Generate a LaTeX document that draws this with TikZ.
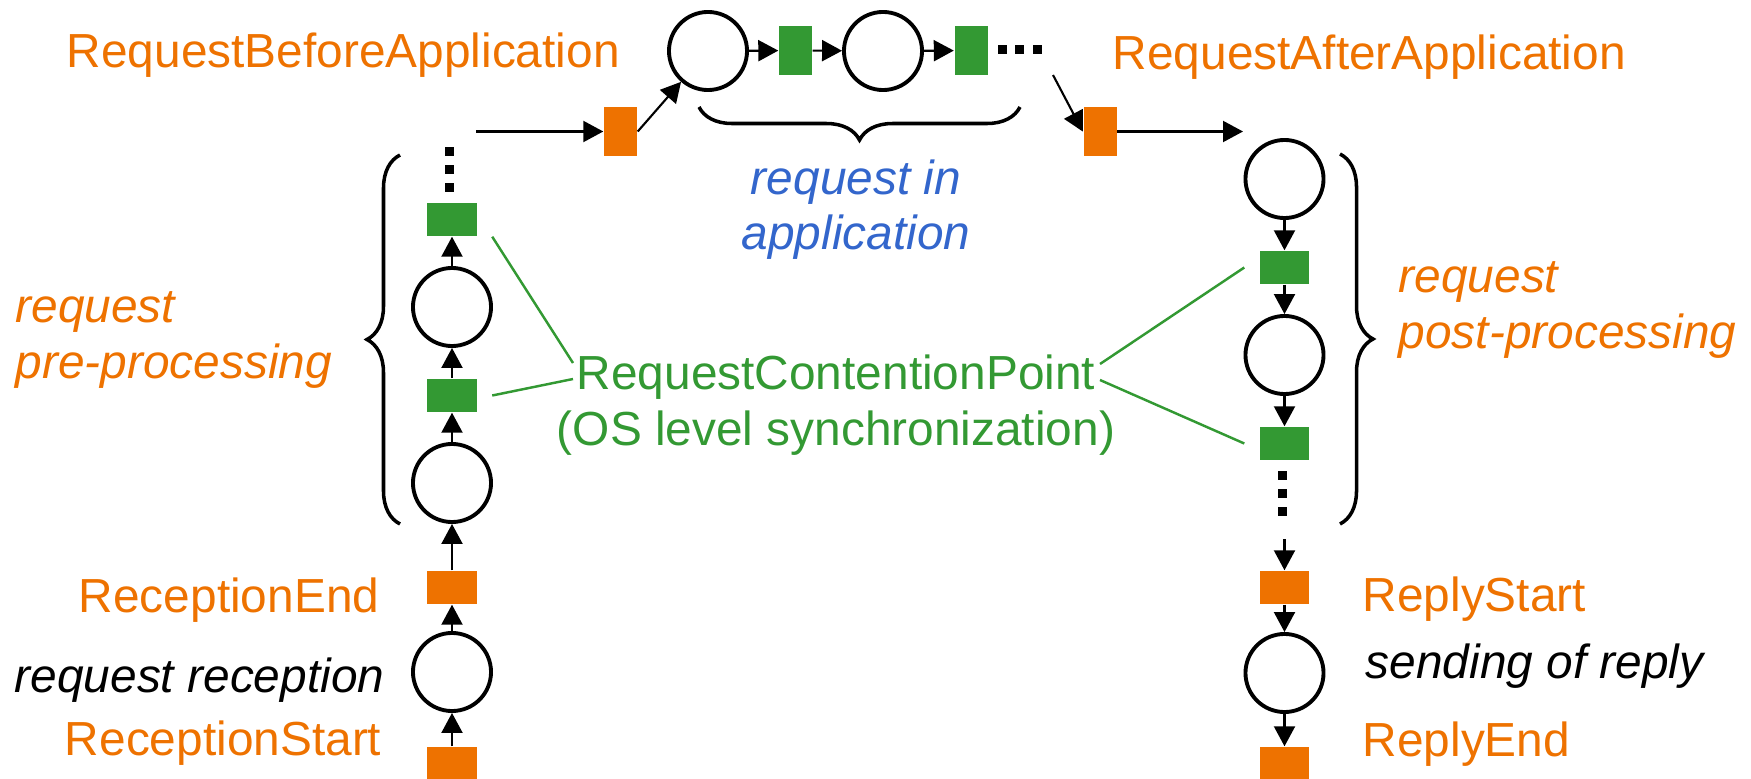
\documentclass[tikz,border=0pt]{standalone}
\usepackage{fontspec}
\setmainfont{Liberation Sans}
\usetikzlibrary{arrows.meta, decorations.pathreplacing}
\definecolor{reqorange}{RGB}{238, 114, 0}
\definecolor{syncgreen}{RGB}{51, 153, 51}
\definecolor{appblue}{RGB}{51, 102, 204}
\newcommand{\lblfont}{\fontsize{13.6}{15.9}\selectfont}

\begin{document}
\begin{tikzpicture}[x=0.01cm, y=-0.01cm,
  place/.style={circle, draw, line width=1.1pt, minimum size=0.78cm, inner sep=0pt},
  htrans/.style={rectangle, fill=#1, minimum width=0.49cm, minimum height=0.33cm, inner sep=0pt},
  vtrans/.style={rectangle, fill=#1, minimum width=0.33cm, minimum height=0.49cm, inner sep=0pt},
  flow/.style={-{Triangle[length=0.2cm, width=0.21cm]}, line width=0.6pt},
  lead/.style={syncgreen, line width=0.7pt},
  grp/.style={decorate, decoration={brace, amplitude=0.33cm}, line width=1pt},
  lbl/.style={font=\lblfont, inner sep=0pt, text=#1},
  note/.style={font=\lblfont\itshape, inner sep=0pt, text=#1}]
  \useasboundingbox (0,0) rectangle (1751,779);

  % Left column: reception and pre-processing
  \node[htrans=reqorange] (recStart) at (452,763.5) {};
  \node[place] (recPlace) at (452,672) {};
  \node[htrans=reqorange] (recEnd) at (452,587.5) {};
  \node[place] (preA) at (452,483) {};
  \node[htrans=syncgreen] (preT1) at (452,395.5) {};
  \node[place] (preB) at (452,307) {};
  \node[htrans=syncgreen] (preT2) at (452,219.5) {};
  \foreach \y in {147,165,183}
    \fill (445,\y) rectangle +(9,9);

  \draw[flow] (recStart) -- (recPlace);
  \draw[flow] (recPlace) -- (recEnd);
  \draw[flow] (recEnd) -- (preA);
  \draw[flow] (preA) -- (preT1);
  \draw[flow] (preT1) -- (preB);
  \draw[flow] (preB) -- (preT2);

  % Top row: request in application
  \coordinate (preOut) at (476,131.5);
  \coordinate (appOut) at (1053,75);
  \coordinate (postIn) at (1243,131.5);
  \node[vtrans=reqorange] (beforeApp) at (620.5,131.5) {};
  \node[place] (appA) at (708,51) {};
  \node[vtrans=syncgreen] (appT1) at (795.5,50.5) {};
  \node[place] (appB) at (883,51) {};
  \node[vtrans=syncgreen] (appT2) at (971,50.5) {};
  \foreach \x in {998,1015,1033}
    \fill (\x,45) rectangle +(9,9);
  \node[vtrans=reqorange] (afterApp) at (1100,131.5) {};

  \draw[flow] (preOut) -- (beforeApp);
  \draw[flow] (beforeApp.east) -- (appA);
  \draw[flow] (appA) -- (appT1);
  \draw[flow] (appT1) -- (appB);
  \draw[flow] (appB) -- (appT2);
  \draw[flow] (appOut) -- (afterApp.west);
  \draw[flow] (afterApp) -- (postIn);

  % Right column: post-processing and reply
  \node[place] (postA) at (1284.5,179) {};
  \node[htrans=syncgreen] (postT1) at (1284.5,267.5) {};
  \node[place] (postB) at (1284.5,355) {};
  \node[htrans=syncgreen] (postT2) at (1284.5,443.5) {};
  \foreach \y in {471,489,507}
    \fill (1278,\y) rectangle +(9,9);
  \coordinate (postOut) at (1284.5,539);
  \node[htrans=reqorange] (replyStart) at (1284.5,587.5) {};
  \node[place] (replyPlace) at (1284.5,673) {};
  \node[htrans=reqorange] (replyEnd) at (1284.5,763.5) {};

  \draw[flow] (postA) -- (postT1);
  \draw[flow] (postT1) -- (postB);
  \draw[flow] (postB) -- (postT2);
  \draw[flow] (postOut) -- (replyStart);
  \draw[flow] (replyStart) -- (replyPlace);
  \draw[flow] (replyPlace) -- (replyEnd);

  % Braces
  \draw[grp] (400,524) -- (400,155);
  \draw[grp] (1020,107) -- (699,107);
  \draw[grp] (1340,154) -- (1340,524);

  % Labels
  \node[lbl=reqorange, anchor=base west] (lblBefore) at (66,68) {RequestBeforeApplication};
  \node[lbl=reqorange, anchor=base west] (lblAfter) at (1112,70) {RequestAfterApplication};
  \node[lbl=reqorange, anchor=base east] (lblRecEnd) at (380,612) {ReceptionEnd};
  \node[note=black, anchor=base east] (lblRec) at (385,692) {request reception};
  \node[lbl=reqorange, anchor=base east] (lblRecStart) at (382,755) {ReceptionStart};
  \node[lbl=reqorange, anchor=base west] (lblReplyStart) at (1362,611) {ReplyStart};
  \node[note=black, anchor=base west] (lblReply) at (1365,678) {sending of reply};
  \node[lbl=reqorange, anchor=base west] (lblReplyEnd) at (1362,756) {ReplyEnd};
  \node[note=reqorange, anchor=base west, align=left] (lblPre) at (15,378) {request\\pre-processing};
  \node[note=reqorange, anchor=base west, align=left] (lblPost) at (1398,348) {request\\post-processing};
  \node[note=appblue, anchor=base, align=center] (lblApp) at (856,250) {request in\\application};
  \node[lbl=syncgreen, anchor=base, align=center] (contention) at (836,445) {RequestContentionPoint\\(OS level synchronization)};

  % Contention point leaders
  \coordinate (leadL1) at (573,363);
  \coordinate (leadL2) at (573,379);
  \coordinate (leadR1) at (1100,364);
  \coordinate (leadR2) at (1100,380);
  \draw[lead] ([xshift=0.15cm]preT2.south east) -- (leadL1);
  \draw[lead] ([xshift=0.15cm]preT1.east) -- (leadL2);
  \draw[lead] ([xshift=-0.15cm]postT1.west) -- (leadR1);
  \draw[lead] ([xshift=-0.15cm]postT2.west) -- (leadR2);
\end{tikzpicture}
\end{document}
